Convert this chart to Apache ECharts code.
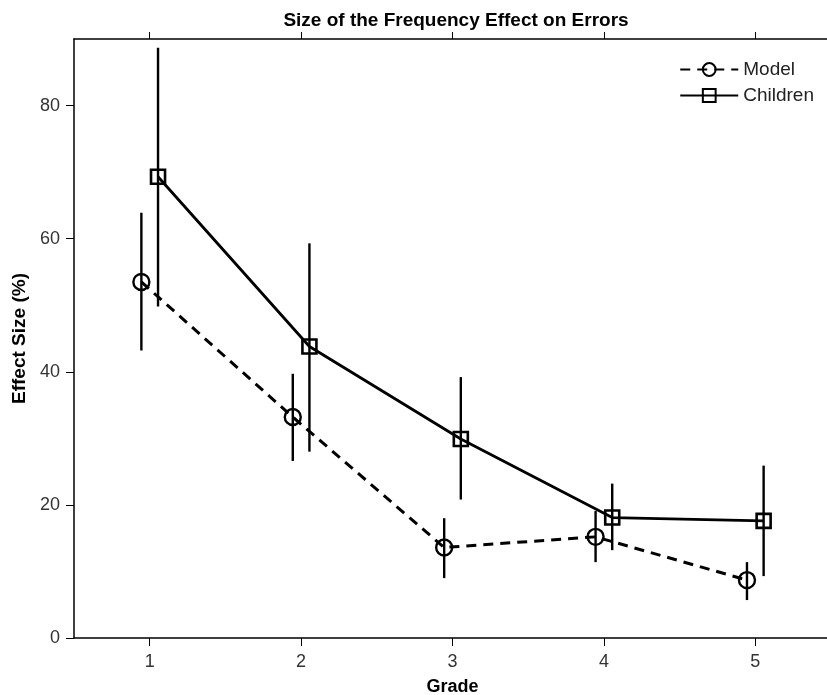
<!DOCTYPE html>
<html lang="en">
<head>
    <meta charset="UTF-8">
    <title>Size of the Frequency Effect on Errors</title>
    <script src="https://cdn.jsdelivr.net/npm/echarts@6/dist/echarts.min.js"></script>
</head>
<style>
    *{
        margin: 0;
        padding: 0;
    }
    html,body{
        width: 100%;
        height: 100%;
        overflow: hidden;
        background: #fff;
    }
    .container{
        width: 827px;
        height: 695px;
    }
</style>
<body>
<div class="container"></div>
<script>
   // values
   let grades = [1, 2, 3, 4, 5];
   let yTicks = [0, 20, 40, 60, 80];
   let modelMean = [53.5, 33.2, 13.6, 15.2, 8.7];
   let modelLow = [43.2, 26.6, 9.0, 11.4, 5.7];
   let modelHigh = [63.9, 39.7, 18.0, 19.1, 11.4];
   let childMean = [69.3, 43.8, 29.9, 18.1, 17.6];
   let childLow = [49.8, 28.0, 20.8, 13.2, 9.3];
   let childHigh = [88.7, 59.3, 39.2, 23.2, 25.9];

   let container = document.querySelector('.container');
   let mycharts = echarts.init(container);
   let font = 'Liberation Sans, Arial, sans-serif';
   let shift = 0.055; // the two groups are dodged left/right of each grade

   let pts = (mean, dx) => grades.map((g, i) => [g + dx, mean[i]]);
   let bars = (lo, hi, dx) => grades.map((g, i) => [g + dx, lo[i], hi[i]]);

   function errorBar(params, api) {
       let a = api.coord([api.value(0), api.value(1)]);
       let b = api.coord([api.value(0), api.value(2)]);
       return {
           type: 'line',
           shape: {x1: a[0], y1: a[1], x2: b[0], y2: b[1]},
           style: {stroke: '#000', lineWidth: 2.4}
       };
   }

   let axisText = {color: '#333', fontSize: 18, fontFamily: font};

   let options = {
       backgroundColor: '#fff',
       animation: false,
       title: {
           text: 'Size of the Frequency Effect on Errors',
           left: 451,
           textAlign: 'center',
           top: 6,
           textStyle: {fontSize: 19, fontWeight: 'bold', color: '#000', fontFamily: font}
       },
       legend: {
           data: ['Model', 'Children'],
           orient: 'vertical',
           right: 8,
           top: 55,
           align: 'left',
           itemWidth: 58,
           itemHeight: 16,
           itemGap: 7,
           textStyle: {fontSize: 19, color: '#222', fontFamily: font}
       },
       grid: {left: 74, right: -4, top: 39, bottom: 57, outerBoundsMode: 'none'},
       xAxis: [{
           type: 'value',
           min: 0.5,
           max: 5.5,
           interval: 1,
           name: 'Grade',
           nameLocation: 'middle',
           nameGap: 40,
           nameTextStyle: {fontSize: 18, fontWeight: 'bold', color: '#000', fontFamily: font},
           axisLine: {lineStyle: {color: '#000', width: 1.5}},
           axisTick: {length: 8, lineStyle: {color: '#000'}, customValues: grades},
           axisLabel: Object.assign({margin: 15, customValues: grades}, axisText),
           splitLine: {show: false}
       }, {
           type: 'value',
           position: 'top',
           min: 0.5,
           max: 5.5,
           interval: 1,
           axisLine: {lineStyle: {color: '#000', width: 1.5}},
           axisTick: {length: 7, lineStyle: {color: '#000'}, customValues: grades},
           axisLabel: {show: false},
           splitLine: {show: false}
       }],
       yAxis: {
           type: 'value',
           min: 0,
           max: 90,
           interval: 20,
           name: 'Effect Size (%)',
           nameLocation: 'middle',
           nameGap: 45,
           nameTextStyle: {fontSize: 19, fontWeight: 'bold', color: '#000', fontFamily: font},
           axisLine: {show: true, lineStyle: {color: '#000', width: 1.5}},
           axisTick: {show: true, length: 8, lineStyle: {color: '#000'}, customValues: yTicks},
           axisLabel: Object.assign({margin: 14, customValues: yTicks}, axisText),
           splitLine: {show: false}
       },
       series: [{
           name: 'Model err',
           type: 'custom',
           renderItem: errorBar,
           encode: {x: 0, y: [1, 2]},
           data: bars(modelLow, modelHigh, -shift),
           z: 1
       }, {
           name: 'Children err',
           type: 'custom',
           renderItem: errorBar,
           encode: {x: 0, y: [1, 2]},
           data: bars(childLow, childHigh, shift),
           z: 1
       }, {
           name: 'Model',
           type: 'line',
           data: pts(modelMean, -shift),
           symbol: 'circle',
           symbolSize: 16,
           lineStyle: {color: '#000', width: 3, type: [10, 7]},
           itemStyle: {color: 'rgba(0,0,0,0)', borderColor: '#000', borderWidth: 2.4},
           z: 2
       }, {
           name: 'Children',
           type: 'line',
           data: pts(childMean, shift),
           symbol: 'rect',
           symbolSize: 14,
           lineStyle: {color: '#000', width: 2.8},
           itemStyle: {color: 'rgba(0,0,0,0)', borderColor: '#000', borderWidth: 2.6},
           z: 2
       }]
   };

   mycharts.setOption(options);
</script>
</body>
</html>
